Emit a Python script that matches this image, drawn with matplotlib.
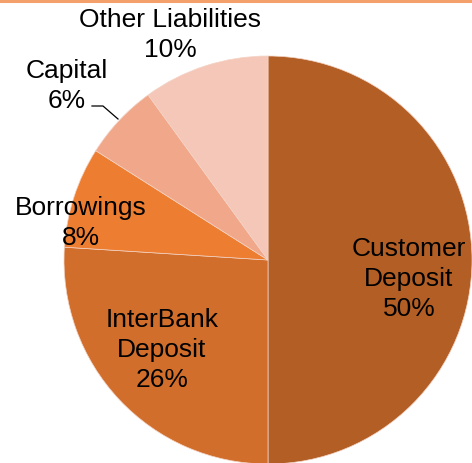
import matplotlib
matplotlib.use("Agg")
import matplotlib.pyplot as plt
from matplotlib.lines import Line2D

categories = ["Customer\nDeposit", "InterBank\nDeposit", "Borrowings", "Capital", "Other Liabilities"]
values = [50, 26, 8, 6, 10]
colors = ["#B35E24", "#D26E2C", "#ED7D31", "#F1A789", "#F5C7B8"]

plt.rcParams['font.family'] = ['Liberation Sans', 'DejaVu Sans']

W, H = 472, 464
fig = plt.figure(figsize=(W / 100, H / 100), dpi=100)
ax = fig.add_axes([0, 0, 1, 1])

R = 204.0
cx, cy = 268.0, 261.0

wedges, _ = ax.pie(values, colors=colors, startangle=90, counterclock=False,
                   radius=1.0, center=(0, 0),
                   wedgeprops=dict(edgecolor="#F3D3C4", linewidth=0.5))

ax.set_xlim(-cx / R, (W - cx) / R)
ax.set_ylim(-(H - cy) / R, cy / R)
ax.set_aspect('equal')
ax.axis('off')

def px(x, y):
    return ((x - cx) / R, (cy - y) / R)

label_px = [(409, 279), (162, 350), (81, 223), (67, 86), (170, 35)]
fs = 19
for cat, v, (lx, ly) in zip(categories, values, label_px):
    x, y = px(lx, ly)
    ax.text(x, y, f"{cat}\n{v}%", ha='center', va='center', multialignment='center',
            fontsize=fs, color='black', linespacing=1.32)

# leader line for Capital
p1 = px(92, 107); p2 = px(103, 107); p3 = px(118, 120)
ax.plot([p1[0], p2[0], p3[0]], [p1[1], p2[1], p3[1]], color='black', lw=0.9)

# top border line
fig.add_artist(Line2D([0, 1], [1 - 1.5 / H, 1 - 1.5 / H], transform=fig.transFigure,
                      color="#F4A06A", lw=2.2))

fig.savefig("out.png", dpi=100)
